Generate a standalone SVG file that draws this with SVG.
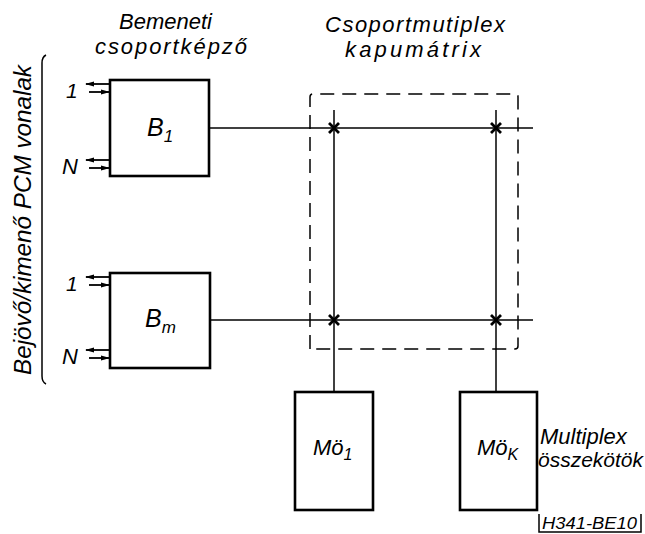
<svg xmlns="http://www.w3.org/2000/svg" width="645" height="534" viewBox="0 0 645 534">
<defs>
<style>
.t{font-family:"Liberation Sans",Arial,sans-serif;font-style:italic;fill:#000;}
.box{fill:none;stroke:#000;stroke-width:2.6;}
.ln{fill:none;stroke:#000;stroke-width:1.5;}
.dash{fill:none;stroke:#000;stroke-width:1.5;stroke-dasharray:14,8;}
.in{stroke:#000;stroke-width:1.8;fill:none;}
.star{stroke:#000;stroke-width:2.8;fill:none;}
</style>
<marker id="ah" markerWidth="9" markerHeight="6" refX="8" refY="3" orient="auto" markerUnits="userSpaceOnUse">
<path d="M0,0.5 L9,3 L0,5.5 Z" fill="#000"/>
</marker>
<g id="inputs">
<line class="in" x1="109" y1="0" x2="86" y2="0" marker-end="url(#ah)"/>
<line class="in" x1="89" y1="8" x2="109" y2="8" marker-end="url(#ah)"/>
</g>
<g id="xmark">
<path class="star" d="M-5,-5 L5,5 M-5,5 L5,-5"/>
</g>
</defs>

<!-- titles -->
<text class="t" x="119" y="29" font-size="22">Bemeneti</text>
<text class="t" x="95" y="54" font-size="22" textLength="152" lengthAdjust="spacing">csoportképző</text>
<text class="t" x="325" y="32" font-size="22" textLength="180" lengthAdjust="spacing">Csoportmutiplex</text>
<text class="t" x="345" y="57" font-size="22" textLength="136" lengthAdjust="spacing">kapumátrix</text>

<!-- bracket and side label -->
<path class="ln" d="M46,55 Q42,57 42,63 L42,376 Q42,382 46,384"/>
<text class="t" transform="translate(31,375) rotate(-90)" font-size="24" textLength="310" lengthAdjust="spacingAndGlyphs">Bejövő/kimenő PCM vonalak</text>

<!-- connectors -->
<g id="connectors">
<line class="ln" x1="209" y1="128" x2="533" y2="128"/>
<line class="ln" x1="210" y1="320" x2="533" y2="320"/>
<line class="ln" x1="334" y1="110" x2="334" y2="392"/>
<line class="ln" x1="496" y1="110" x2="496" y2="392"/>
<use href="#inputs" x="0" y="84"/>
<use href="#inputs" x="0" y="160"/>
<use href="#inputs" x="0" y="277"/>
<use href="#inputs" x="0" y="350"/>
<use href="#xmark" x="334" y="128"/>
<use href="#xmark" x="496" y="128"/>
<use href="#xmark" x="334" y="320"/>
<use href="#xmark" x="496" y="320"/>
</g>

<!-- matrix -->
<g id="matrix">
<path class="dash" d="M310,349 L310,97 Q310,94 313,94 L515,94 Q518,94 518,97 L518,346 Q518,349 515,349 Z"/>
</g>

<!-- B1 -->
<g id="B1">
<rect class="box" x="110" y="80" width="99" height="96"/>
<text class="t" x="66" y="98" font-size="21">1</text>
<text class="t" x="62" y="174" font-size="22">N</text>
<text class="t" x="147" y="136" font-size="25">B<tspan font-size="17" dy="6">1</tspan></text>
</g>

<!-- Bm -->
<g id="Bm">
<rect class="box" x="110" y="273" width="100" height="95"/>
<text class="t" x="66" y="291" font-size="21">1</text>
<text class="t" x="62" y="364" font-size="22">N</text>
<text class="t" x="145" y="327" font-size="25">B<tspan font-size="17" dy="6">m</tspan></text>
</g>

<!-- Mö1 -->
<g id="Mo1">
<rect class="box" x="295" y="392" width="78" height="118"/>
<text class="t" x="313" y="455" font-size="22">Mö<tspan font-size="16" dy="5">1</tspan></text>
</g>

<!-- Mök -->
<g id="Mok">
<rect class="box" x="460" y="392" width="77" height="118"/>
<text class="t" x="477" y="455" font-size="22">Mö<tspan font-size="16" dy="5">K</tspan></text>
</g>

<text class="t" x="540" y="444" font-size="22">Multiplex</text>
<text class="t" x="538" y="467" font-size="21">összekötök</text>

<g id="code">
<path class="ln" d="M539,514 L539,532 L641,532 L641,514"/>
<text class="t" x="542" y="529" font-size="16" textLength="95" lengthAdjust="spacingAndGlyphs">H341-BE10</text>
</g>
</svg>
